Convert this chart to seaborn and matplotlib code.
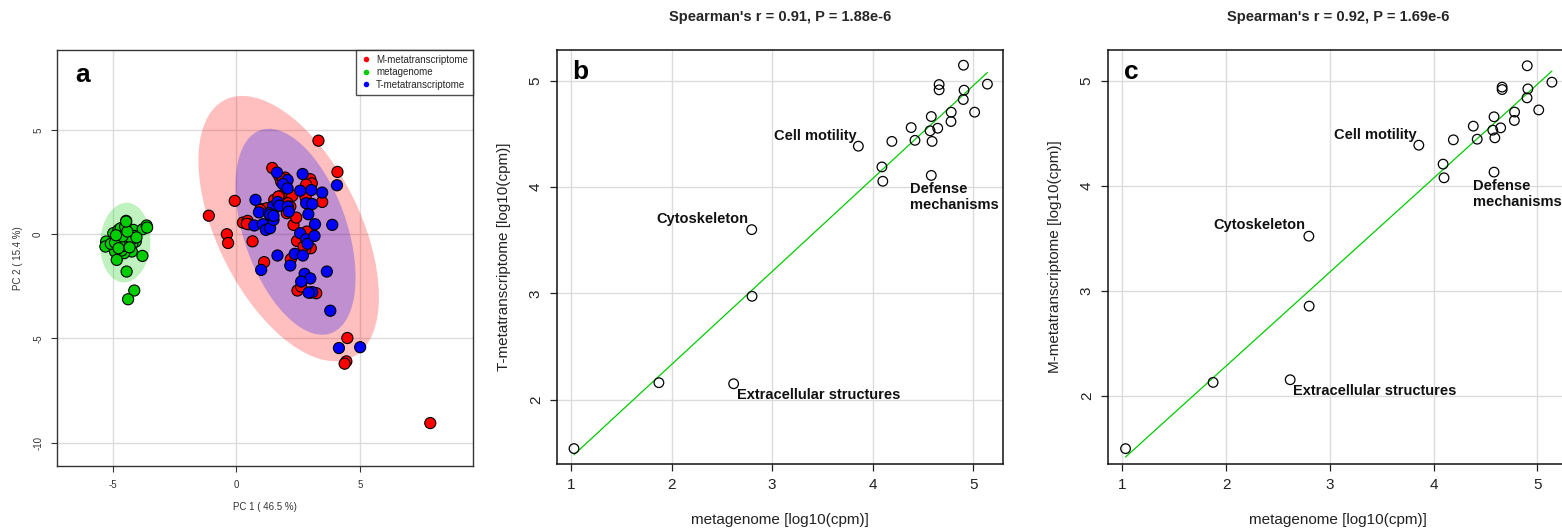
import numpy as np
import pandas as pd
import seaborn as sns
import matplotlib
matplotlib.use("Agg")
import matplotlib.pyplot as plt
from matplotlib.patches import Ellipse
from matplotlib.lines import Line2D

# ---- PCA scores (panel a) ----
m_pc1 = [3.32, 4.09, 3.47, -1.12, -0.07, -0.39, -0.34, 0.26, 0.45, 0.49, 0.65, 1.12,
         1.05, 1.45, 1.74, 1.81, 1.97, 1.93, 2.26, 2.07, 1.74, 1.53, 2.31, 2.42, 2.45,
         2.99, 3.05, 2.82, 2.80, 3.01, 2.78, 2.20, 2.47, 2.62, 3.23, 2.99, 4.49, 4.45,
         4.38, 7.85, 1.23, 1.64, 2.04, 2.18, 0.96, 2.72, 1.88, 1.70, 1.39, 0.42, 2.85]
m_pc2 = [4.49, 2.99, 1.55, 0.89, 1.60, 0.00, -0.42, 0.56, 0.64, 0.48, -0.34, -1.34,
         1.20, 3.18, 2.76, 2.52, 2.72, 1.92, 1.84, 1.49, 1.81, 1.65, 0.45, 0.80, -0.32,
         2.64, 2.44, 2.38, 1.77, -0.67, -0.75, -1.20, -2.70, -2.51, -2.83, -2.80, -4.98,
         -6.10, -6.21, -9.06, 1.25, 1.33, 1.01, 1.33, 1.17, -0.59, 2.64, 1.81, 0.69, 0.50, 0.13]

g_pc1 = [-4.47, -4.55, -4.38, -4.18, -4.15, -4.08, -4.22, -4.24, -4.55, -4.65, -4.85,
         -4.99, -5.12, -5.28, -5.31, -4.92, -4.85, -4.45, -4.14, -4.39, -3.81, -3.80,
         -3.64, -4.78, -4.69, -4.51, -4.45, -4.27, -4.58, -4.74, -5.09, -4.92, -4.78,
         -4.33, -4.05, -4.62, -4.42, -4.47, -4.88, -3.62]
g_pc2 = [0.64, 0.32, -0.03, 0.21, -0.08, -0.35, -0.46, -0.83, -0.91, -0.78, -0.19,
         0.05, -0.48, -0.35, -0.59, -0.83, -1.23, -1.79, -2.70, -3.12, -1.04, 0.24,
         0.42, 0.21, 0.29, 0.37, -0.35, -0.27, -0.56, -0.46, -0.46, -0.40, -0.67,
         -0.63, -0.15, -0.10, 0.13, 0.61, -0.05, 0.32]

t_pc1 = [1.64, 2.07, 1.88, 2.07, 2.68, 2.58, 3.03, 3.47, 4.07, 0.77, 0.91, 1.47, 1.66,
         1.74, 2.08, 2.12, 2.82, 3.07, 2.91, 3.18, 3.88, 0.72, 1.07, 1.19, 1.36, 1.50,
         1.31, 2.58, 2.82, 2.88, 3.16, 2.36, 2.69, 1.66, 2.18, 1.00, 2.76, 2.99, 2.62,
         3.07, 2.92, 3.66, 3.80, 4.15, 5.01, 1.36, 1.50]
t_pc2 = [2.96, 2.60, 2.41, 2.20, 2.89, 2.09, 2.12, 2.00, 2.35, 1.65, 1.05, 1.33, 1.55,
         1.37, 1.33, 1.09, 1.49, 1.45, 0.96, 0.48, 0.45, 0.42, 0.48, 0.21, 0.29, 0.69,
         1.01, 0.05, -0.24, -0.46, -0.08, -0.94, -1.02, -1.02, -1.50, -1.71, -1.90,
         -2.12, -2.27, -2.78, -2.80, -1.79, -3.67, -5.46, -5.42, 0.93, 0.88]

group_names = ["M-metatranscriptome", "metagenome", "T-metatranscriptome"]
group_colors = ["#FF0000", "#00CD00", "#0000FF"]

# ---- COG category abundances, log10(cpm) (panels b, c) ----
metagenome = [1.03, 1.874, 2.617, 2.80, 2.797, 3.857, 4.091, 4.10, 4.19, 4.382, 4.42,
              4.582, 4.582, 4.57, 4.59, 4.646, 4.66, 4.66, 4.778, 4.78, 4.902, 4.908,
              4.90, 5.013, 5.14]
t_meta = [1.54, 2.16, 2.15, 2.973, 3.60, 4.385, 4.19, 4.055, 4.43, 4.56, 4.44, 4.11,
          4.664, 4.53, 4.43, 4.554, 4.965, 4.915, 4.617, 4.705, 5.147, 4.912, 4.824,
          4.705, 4.969]
m_meta = [1.50, 2.13, 2.155, 2.855, 3.52, 4.385, 4.205, 4.075, 4.436, 4.566, 4.442,
          4.129, 4.655, 4.528, 4.455, 4.55, 4.937, 4.914, 4.62, 4.70, 5.14, 4.92, 4.835,
          4.72, 4.984]
cog_names = [""] * len(metagenome)
cog_names[2] = "Extracellular structures"
cog_names[4] = "Cytoskeleton"
cog_names[5] = "Cell motility"
cog_names[11] = "Defense\nmechanisms"

titles = ["Spearman's r = 0.91, P = 1.88e-6", "Spearman's r = 0.92, P = 1.69e-6"]

sns.set_theme(style="whitegrid")
plt.rcParams["font.family"] = ["Liberation Sans", "DejaVu Sans"]
plt.rcParams["axes.unicode_minus"] = False
plt.rcParams["axes.edgecolor"] = "#222222"
plt.rcParams["grid.color"] = "#DCDCDC"
plt.rcParams["grid.linewidth"] = 1.0

W, H = 1562, 531
fig = plt.figure(figsize=(W / 100, H / 100), dpi=100)
fig.patch.set_facecolor("white")


def px_axes(left, top, right, bottom):
    return fig.add_axes([left / W, 1 - bottom / H, (right - left) / W, (bottom - top) / H])


def data_ellipse(ax, x, y, color, k=np.sqrt(-2 * np.log(0.05))):
    cov = np.cov(x, y)
    vals, vecs = np.linalg.eigh(cov)
    angle = np.degrees(np.arctan2(vecs[1, 1], vecs[0, 1]))
    ell = Ellipse((np.mean(x), np.mean(y)), 2 * k * np.sqrt(vals[1]), 2 * k * np.sqrt(vals[0]),
                  angle=angle, facecolor=color, alpha=0.25, edgecolor="none", zorder=1)
    ax.add_patch(ell)


# ---------------- panel a ----------------
pca = pd.DataFrame({
    "PC1": m_pc1 + g_pc1 + t_pc1,
    "PC2": m_pc2 + g_pc2 + t_pc2,
    "type": [group_names[0]] * len(m_pc1) + [group_names[1]] * len(g_pc1) + [group_names[2]] * len(t_pc1),
})
axa = px_axes(57, 50, 473, 466)
axa.set_axisbelow(True)
for (px, py), col in zip([(m_pc1, m_pc2), (g_pc1, g_pc2), (t_pc1, t_pc2)], group_colors):
    data_ellipse(axa, np.array(px), np.array(py), col)
sns.scatterplot(data=pca, x="PC1", y="PC2", hue="type", hue_order=group_names,
                palette=group_colors, s=64, edgecolor="black", linewidth=0.8,
                legend=False, ax=axa, zorder=3)
axa.set_xlim(-7.27, 9.58)
axa.set_ylim(-11.12, 8.84)
axa.set_xticks([-5, 0, 5])
axa.set_yticks([-10, -5, 0, 5])
axa.tick_params(axis="both", labelsize=7, colors="#333333", length=4, width=0.8, pad=6,
                bottom=True, left=True)
plt.setp(axa.get_yticklabels(), rotation=90, va="center")
axa.set_xlabel("PC 1 ( 46.5 %)", fontsize=7, color="#333333")
axa.set_ylabel("PC 2 ( 15.4 %)", fontsize=7, color="#333333")
axa.xaxis.set_label_coords(0.5, -(507.5 - 466) / 416)
axa.xaxis.label.set_va("center")
axa.yaxis.set_label_coords((18 - 57) / 416, 0.5)
axa.yaxis.label.set_va("center")
for sp in axa.spines.values():
    sp.set_color("#333333")
    sp.set_linewidth(1.0)
axa.text(0.045, 0.94, "a", transform=axa.transAxes, fontsize=19, fontweight="bold",
         ha="left", va="center", color="black")
handles = [Line2D([0], [0], marker="o", linestyle="none", markersize=4,
                  markerfacecolor=c, markeredgecolor="none") for c in group_colors]
leg = axa.legend(handles, group_names, loc="upper right", fontsize=7, frameon=True,
                 fancybox=False, borderaxespad=0, handlelength=1.0, handletextpad=0.6,
                 borderpad=0.5, labelspacing=0.25)
leg.get_frame().set_edgecolor("#222222")
leg.get_frame().set_linewidth(1.0)

# ---------------- panels b and c ----------------
panels = [
    dict(box=(556.7, 50, 1003, 464), y=t_meta, ylab="T-metatranscriptome [log10(cpm)]",
         letter="b", ylim=(1.395, 5.29)),
    dict(box=(1107.7, 50, 1568, 464), y=m_meta, ylab="M-metatranscriptome [log10(cpm)]",
         letter="c", ylim=(1.354, 5.29)),
]
offsets = {
    "Cell motility": dict(xytext=(-2, 6), ha="right", va="baseline"),
    "Cytoskeleton": dict(xytext=(-3, 7), ha="right", va="baseline"),
    "Extracellular structures": dict(xytext=(3, -4), ha="left", va="top"),
    "Defense\nmechanisms": dict(xytext=(-21, -7), ha="left", va="top"),
}
for p, title in zip(panels, titles):
    l, t, r, b = p["box"]
    ax = px_axes(l, t, r, b)
    ax.set_axisbelow(True)
    df = pd.DataFrame({"metagenome": metagenome, "meta": p["y"], "cog": cog_names})
    sns.regplot(data=df, x="metagenome", y="meta", ci=None, scatter=False, truncate=True,
                line_kws=dict(color="#00CC00", linewidth=0.9), ax=ax)
    sns.scatterplot(data=df, x="metagenome", y="meta", s=48, facecolor="none",
                    edgecolor="black", linewidth=0.9, ax=ax, zorder=3)
    for _, row in df[df["cog"] != ""].iterrows():
        o = offsets[row["cog"]]
        ax.annotate(row["cog"], (row["metagenome"], row["meta"]), xytext=o["xytext"],
                    textcoords="offset pixels", ha=o["ha"], va=o["va"], fontsize=10.5,
                    fontweight="bold", color="#111111", multialignment="left",
                    linespacing=1.15)
    ax.set_xlim(0.858, 5.295)
    ax.set_ylim(*p["ylim"])
    ax.set_xticks([1, 2, 3, 4, 5])
    ax.set_yticks([2, 3, 4, 5])
    ax.tick_params(axis="both", labelsize=11, colors="#222222", length=5, width=0.9,
                   pad=5, bottom=True, left=True)
    plt.setp(ax.get_yticklabels(), rotation=90, va="center")
    ax.set_xlabel("metagenome [log10(cpm)]", fontsize=11, color="#222222")
    ax.set_ylabel(p["ylab"], fontsize=11, color="#222222")
    wpx, hpx = r - l, b - t
    ax.xaxis.set_label_coords(0.5, -(520 - b) / hpx)
    ax.xaxis.label.set_va("center")
    ax.yaxis.set_label_coords(-53 / wpx, 0.5)
    ax.yaxis.label.set_va("center")
    for sp in ax.spines.values():
        sp.set_color("#111111")
        sp.set_linewidth(1.1)
    ax.text(16 / wpx, 1 - 22 / hpx, p["letter"], transform=ax.transAxes, fontsize=19,
            fontweight="bold", ha="left", va="center", color="black")
    ax.set_title(title, fontsize=10.5, fontweight="bold", pad=0, y=1 + 33 / hpx,
                 va="center")

fig.savefig("out.png", dpi=100)
